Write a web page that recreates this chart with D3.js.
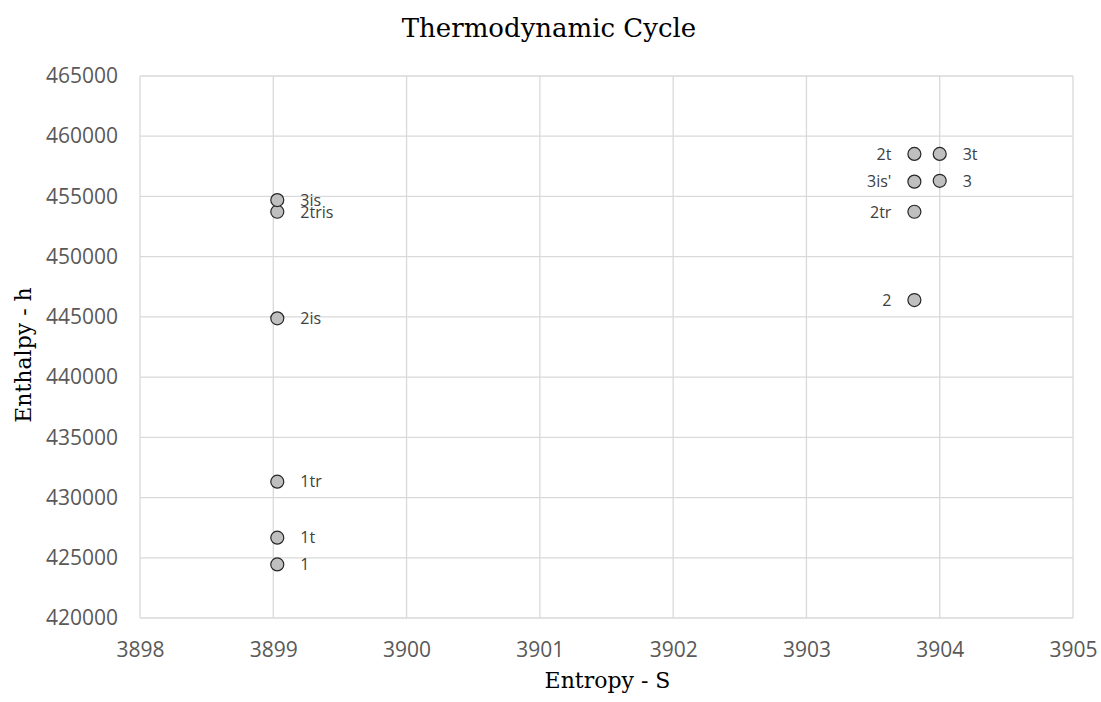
<!doctype html>
<html>
<head>
<style>
  body { margin: 0; background: #fff; }
  svg { display: block; }
  .grid line { stroke: #d9d9d9; stroke-width: 1.3; }
  .tick text { font-family: "Open Sans", sans-serif; font-size: 21px; fill: #595959; }
  .lbl { font-family: "Open Sans", sans-serif; font-size: 16px; fill: #404040; }
  .serif { font-family: "DejaVu Serif", serif; fill: #000; }
</style>
<script src="https://d3js.org/d3.v7.min.js"></script>
</head>
<body>
<svg width="1101" height="702"></svg>
<script>
// state points
var names = ["1", "1t", "1tr", "2is", "2tris", "3is", "2", "2tr", "3is'", "2t", "3", "3t"];
var entropy = [3899.03, 3899.03, 3899.03, 3899.03, 3899.03, 3899.03, 3903.81, 3903.81, 3903.81, 3903.81, 3904.0, 3904.0];
var enthalpy = [424450, 426670, 431320, 444880, 453730, 454700, 446400, 453730, 456230, 458530, 456300, 458530];
var labelSide = ["r", "r", "r", "r", "r", "r", "l", "l", "l", "l", "r", "r"];

var xTicks = [3898, 3899, 3900, 3901, 3902, 3903, 3904, 3905];
var yTicks = [420000, 425000, 430000, 435000, 440000, 445000, 450000, 455000, 460000, 465000];

var svg = d3.select("svg"),
    margin = { top: 76, right: 28, bottom: 84, left: 140 },
    width = 1101 - margin.left - margin.right,
    height = 702 - margin.top - margin.bottom;

var g = svg.append("g")
    .attr("transform", "translate(" + margin.left + "," + margin.top + ")");

var x = d3.scaleLinear().domain([3898, 3905]).range([0, width]);
var y = d3.scaleLinear().domain([420000, 465000]).range([height, 0]);

// gridlines
g.append("g").attr("class", "grid")
    .selectAll("line").data(yTicks).enter().append("line")
    .attr("x1", 0).attr("x2", width)
    .attr("y1", function (d) { return y(d); }).attr("y2", function (d) { return y(d); });
g.append("g").attr("class", "grid")
    .selectAll("line").data(xTicks).enter().append("line")
    .attr("y1", 0).attr("y2", height)
    .attr("x1", function (d) { return x(d); }).attr("x2", function (d) { return x(d); });

// axes (labels only)
var xAxis = g.append("g")
    .attr("transform", "translate(0," + height + ")")
    .call(d3.axisBottom(x).tickValues(xTicks).tickFormat(d3.format("d")).tickSize(0).tickPadding(24));
xAxis.select(".domain").remove();

var yAxis = g.append("g")
    .call(d3.axisLeft(y).tickValues(yTicks).tickFormat(d3.format("d")).tickSize(0).tickPadding(22));
yAxis.select(".domain").remove();

// points
var idx = d3.range(names.length);
g.selectAll(".pt").data(idx).enter().append("circle")
    .attr("class", "pt")
    .attr("cx", function (i) { return x(entropy[i]); })
    .attr("cy", function (i) { return y(enthalpy[i]); })
    .attr("r", 6.5)
    .attr("fill", "#bfbfbf")
    .attr("stroke", "#262626")
    .attr("stroke-width", 1.2);

g.selectAll(".lbl").data(idx).enter().append("text")
    .attr("class", "lbl")
    .attr("x", function (i) { return x(entropy[i]) + (labelSide[i] === "r" ? 23 : -23); })
    .attr("y", function (i) { return y(enthalpy[i]); })
    .attr("dy", "0.36em")
    .attr("text-anchor", function (i) { return labelSide[i] === "r" ? "start" : "end"; })
    .text(function (i) { return names[i]; });

// titles
svg.append("text").attr("class", "serif")
    .attr("x", 549).attr("y", 37)
    .attr("text-anchor", "middle")
    .style("font-size", "26px")
    .text("Thermodynamic Cycle");

svg.append("text").attr("class", "serif")
    .attr("x", margin.left + width / 2 + 1).attr("y", 688)
    .attr("text-anchor", "middle")
    .style("font-size", "22px")
    .text("Entropy - S");

svg.append("text").attr("class", "serif")
    .attr("transform", "translate(31,355) rotate(-90)")
    .attr("text-anchor", "middle")
    .style("font-size", "22px")
    .text("Enthalpy - h");
</script>
</body>
</html>
